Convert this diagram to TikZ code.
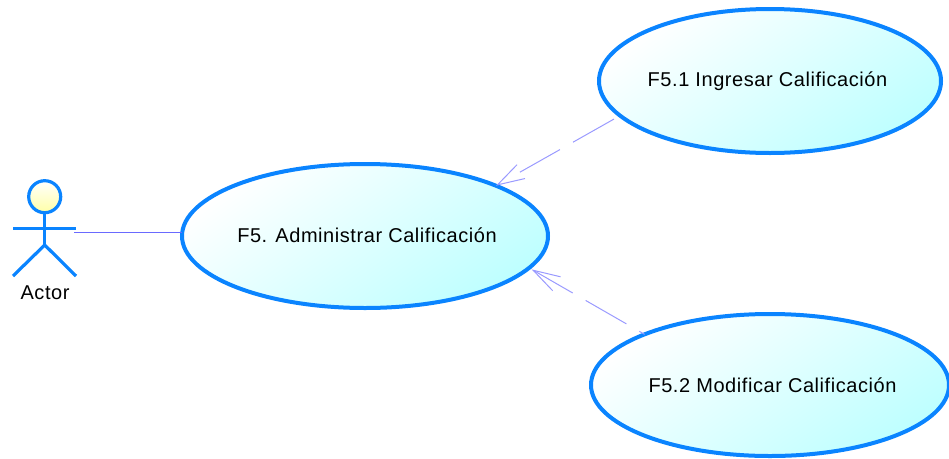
\documentclass[tikz,border=0pt]{standalone}
\usepackage{fontspec}
\setmainfont{Liberation Sans}
\newfontfamily\ucfont[LetterSpace=2.8]{Liberation Sans}
\usetikzlibrary{shapes.geometric,arrows.meta,shadings}
\definecolor{ucblue}{HTML}{0A84FF}
\definecolor{linkblue}{HTML}{6A6AFF}
\definecolor{dashblue}{HTML}{9A9AFF}
\definecolor{ucfill}{HTML}{BEFFFF}
\tikzset{
  usecase/.style={ellipse,draw=ucblue,line width=4pt,inner sep=0pt,outer sep=0pt,
    top color=white,bottom color=ucfill,shading angle=35,font=\ucfont\fontsize{20}{24}\selectfont},
  stick/.style={draw=ucblue,line width=3.2pt},
  dep/.style={draw=dashblue,line width=1pt,-{Straight Barb[length=27pt,width=16pt]}},
  assoc/.style={draw=linkblue,line width=1.2pt},
}
\begin{document}
\begin{tikzpicture}[x=1pt,y=-1pt]
\useasboundingbox (0,0) rectangle (949,458);
\node[usecase,minimum width=366pt,minimum height=144pt] (main) at (365,236) {\makebox[0pt]{\hspace*{4pt}\raisebox{2pt}{F5. Administrar Calificación}}};
\node[usecase,minimum width=342pt,minimum height=144pt] (top) at (770,81) {\makebox[0pt]{\hspace*{-5pt}\raisebox{1pt}{F5.1 Ingresar Calificación}}};
\node[usecase,minimum width=358pt,minimum height=142pt] (bot) at (770,385) {\makebox[0pt]{\hspace*{5pt}F5.2 Modificar Calificación}};
% actor
\node[circle,draw=ucblue,line width=3.2pt,minimum size=32pt,inner sep=0pt,outer sep=0pt,top color=white,bottom color=yellow!35!white] (head) at (44.7,196.7) {};
\coordinate (hip) at (44.7,245);
\coordinate (handL) at (13,228.7);
\coordinate (handR) at (76,228.7);
\coordinate (footL) at (13,276);
\coordinate (footR) at (76,276);
\coordinate (actorend) at (74,232.3);
\draw[stick] (head.south) -- (hip);
\draw[stick] (handL) -- (handR);
\draw[stick] (footL) -- (hip) -- (footR);
\node[font=\ucfont\fontsize{20}{22}\selectfont,inner sep=0pt] (actorlabel) at (45,293) {Actor};
% connectors
\draw[assoc] (actorend) -- (actorend -| main.west);
\draw[dep,shorten <=7pt,dash pattern=on 47pt off 15pt on 46pt off 100pt] (top.193.2) -- (main.21.1);
\draw[dep,shorten >=3pt,dash pattern=on 6pt off 15pt on 47pt off 15pt on 100pt] (bot.158.8) -- (main.349.5);
\end{tikzpicture}
\end{document}
